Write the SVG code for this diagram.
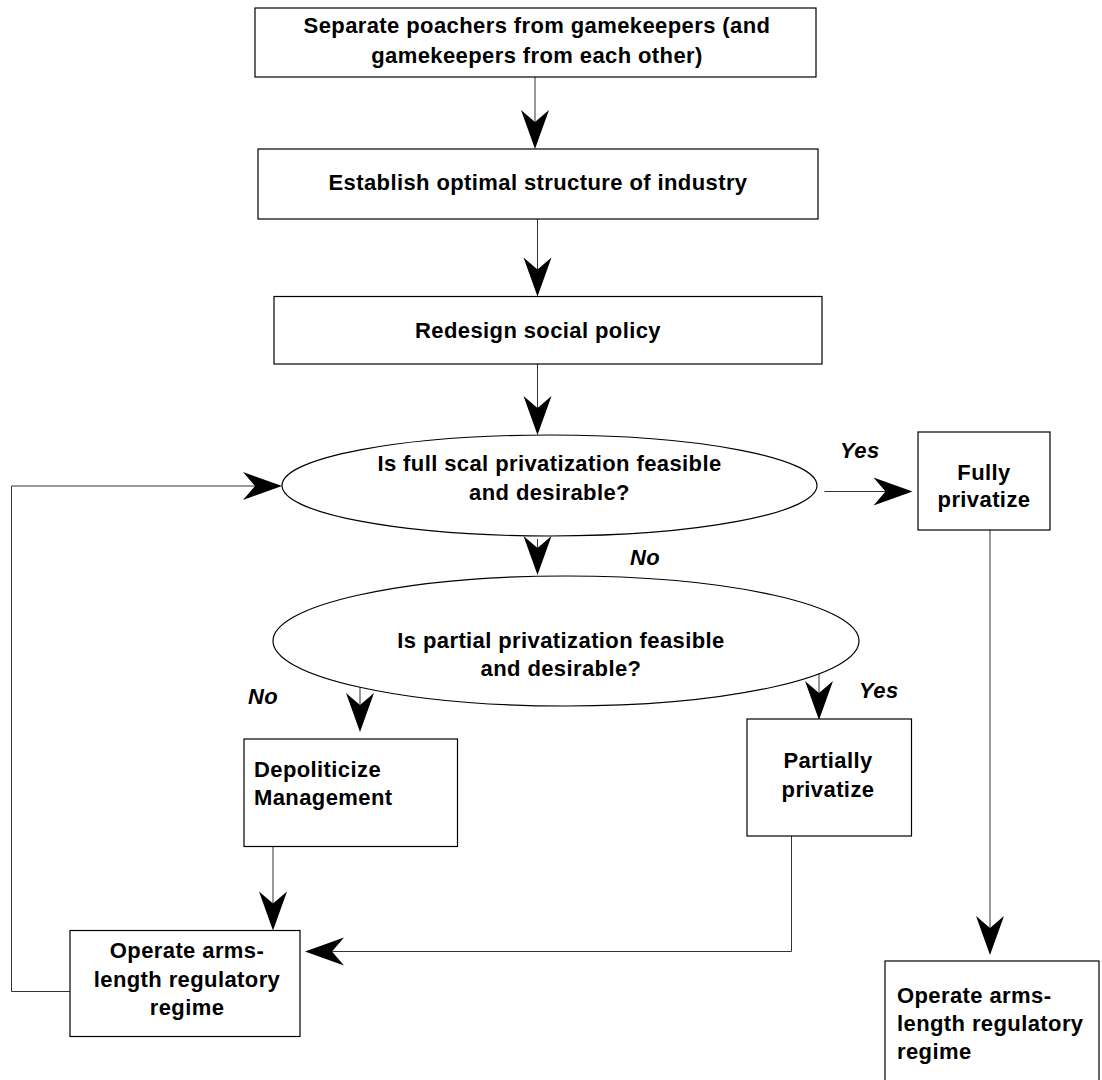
<svg xmlns="http://www.w3.org/2000/svg" xmlns:xlink="http://www.w3.org/1999/xlink" width="1102" height="1080" viewBox="0 0 1102 1080">
<style>
.box{fill:#fff;stroke:#000;stroke-width:1.2}
.ln{fill:none;stroke:#333;stroke-width:1}
.t{font-family:"Liberation Sans",Arial,sans-serif;font-weight:bold;font-size:22px;letter-spacing:0.4px;fill:#000}
.c{text-anchor:middle}
.lab{font-style:italic}
</style>
<defs>
<path id="ah" d="M0,0 L-14,-39 L0,-27 L14,-39 Z" fill="#000"/>
</defs>
<rect width="1102" height="1080" fill="#fff"/>
<g id="connectors">
<line class="ln" x1="535" y1="77" x2="535" y2="125"/>
<use xlink:href="#ah" transform="translate(535,149)"/>
<line class="ln" x1="537.5" y1="219" x2="537.5" y2="272"/>
<use xlink:href="#ah" transform="translate(537.5,296.5)"/>
<line class="ln" x1="537.5" y1="364" x2="537.5" y2="410"/>
<use xlink:href="#ah" transform="translate(537.5,435)"/>
<line class="ln" x1="537.5" y1="539" x2="537.5" y2="550"/>
<use xlink:href="#ah" transform="translate(537.5,575)"/>
<line class="ln" x1="824.5" y1="491.5" x2="890" y2="491.5"/>
<use xlink:href="#ah" transform="translate(912.5,491.5) rotate(-90)"/>
<line class="ln" x1="990" y1="530" x2="990" y2="930"/>
<use xlink:href="#ah" transform="translate(990,955)"/>
<line class="ln" x1="360" y1="683" x2="360" y2="708"/>
<use xlink:href="#ah" transform="translate(360,732)"/>
<line class="ln" x1="819" y1="672" x2="819" y2="696"/>
<use xlink:href="#ah" transform="translate(819,720)"/>
<line class="ln" x1="273" y1="842" x2="273" y2="905"/>
<use xlink:href="#ah" transform="translate(273,930.5)"/>
<polyline class="ln" points="791.5,836 791.5,951.5 330,951.5"/>
<use xlink:href="#ah" transform="translate(305,951.5) rotate(90)"/>
<polyline class="ln" points="70,991.5 11.5,991.5 11.5,486 258,486"/>
<use xlink:href="#ah" transform="translate(282,486) rotate(-90)"/>
</g>
<g id="labels">
<text class="t lab" x="840" y="458">Yes</text>
<text class="t lab" x="630" y="565">No</text>
<text class="t lab" x="248" y="704">No</text>
<text class="t lab" x="859" y="698">Yes</text>
</g>
<g id="n1">
<rect class="box" x="255" y="8" width="561" height="69"/>
<text class="t c" x="537" y="33">Separate poachers from gamekeepers (and</text>
<text class="t c" x="537" y="63">gamekeepers from each other)</text>
</g>
<g id="n2">
<rect class="box" x="258" y="149" width="560" height="70"/>
<text class="t c" x="538" y="190">Establish optimal structure of industry</text>
</g>
<g id="n3">
<rect class="box" x="274" y="296.5" width="548" height="67.5"/>
<text class="t c" x="538" y="338">Redesign social policy</text>
</g>
<g id="d1">
<ellipse class="box" cx="549.5" cy="485.5" rx="267.5" ry="50.5"/>
<text class="t c" x="549.5" y="471">Is full scal privatization feasible</text>
<text class="t c" x="549.5" y="500">and desirable?</text>
</g>
<g id="n4">
<rect class="box" x="918" y="432" width="132" height="98"/>
<text class="t c" x="984" y="480">Fully</text>
<text class="t c" x="984" y="507">privatize</text>
</g>
<g id="d2">
<ellipse class="box" cx="566" cy="641" rx="293" ry="65"/>
<text class="t c" x="561" y="648">Is partial privatization feasible</text>
<text class="t c" x="561" y="676">and desirable?</text>
</g>
<g id="n5">
<rect class="box" x="244" y="739" width="213.5" height="107.5"/>
<text class="t" x="254" y="777">Depoliticize</text>
<text class="t" x="254" y="805">Management</text>
</g>
<g id="n6">
<rect class="box" x="747" y="719" width="164.5" height="117"/>
<text class="t c" x="828" y="768">Partially</text>
<text class="t c" x="828" y="797">privatize</text>
</g>
<g id="n7">
<rect class="box" x="70" y="930.5" width="230" height="106"/>
<text class="t c" x="187" y="958">Operate arms-</text>
<text class="t c" x="187" y="987">length regulatory</text>
<text class="t c" x="187" y="1015">regime</text>
</g>
<g id="n8">
<rect class="box" x="885" y="961" width="214" height="130"/>
<text class="t" x="897" y="1003">Operate arms-</text>
<text class="t" x="897" y="1031">length regulatory</text>
<text class="t" x="897" y="1059">regime</text>
</g>
</svg>
